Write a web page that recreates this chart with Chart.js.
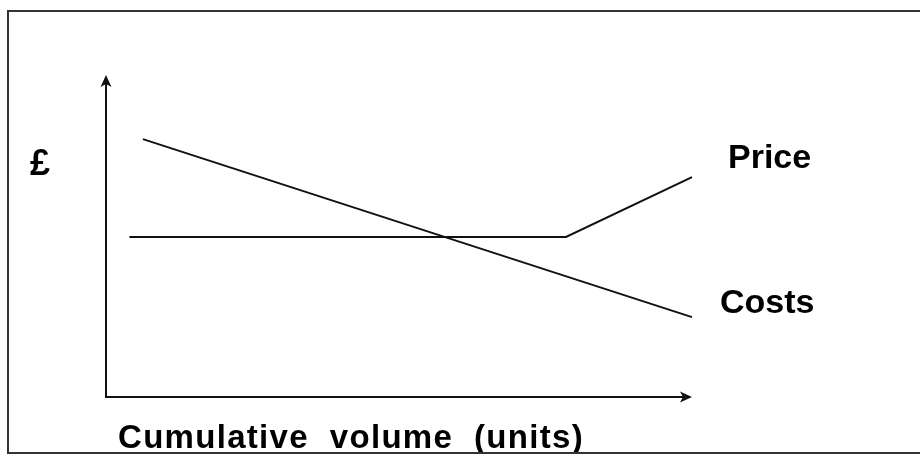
<!DOCTYPE html>
<html>
<head>
<meta charset="utf-8">
<script src="https://cdn.jsdelivr.net/npm/chart.js@4.4.1/dist/chart.umd.min.js"></script>
<style>
  html, body { margin: 0; padding: 0; background: #fff; }
  #wrap { width: 920px; height: 458px; }
</style>
</head>
<body>
<div id="wrap"><canvas id="chart" width="920" height="458"></canvas></div>
<script>
// values (volume 0..100 along x, £ 0..100 up y)
const priceVolume = [4, 78.5, 100];
const priceValues = [49.7, 49.7, 68.3];
const costVolume = [6.3, 100];
const costValues = [80.1, 24.8];
const seriesNames = ['Price', 'Costs'];
const yAxisLabel = '£';
const xAxisLabel = 'Cumulative  volume  (units)';

const fontFamily = '"Liberation Sans", Arial, sans-serif';

function toPoints(xs, ys) {
    return xs.map((x, i) => ({ x: x, y: ys[i] }));
}

// frame, arrowed axes and the text labels
const sketchPlugin = {
    id: 'sketch',
    beforeDraw(chart) {
        const ctx = chart.ctx;
        ctx.save();
        ctx.fillStyle = '#fff';
        ctx.fillRect(0, 0, chart.width, chart.height);
        ctx.strokeStyle = '#333';
        ctx.lineWidth = 2;
        ctx.strokeRect(8, 11, chart.width + 20, 442);
        ctx.restore();
    },
    afterDraw(chart) {
        const ctx = chart.ctx;
        const x = chart.scales.x;
        const y = chart.scales.y;
        const x0 = x.getPixelForValue(0);
        const x1 = x.getPixelForValue(100);
        const y0 = y.getPixelForValue(0);
        const y1 = y.getPixelForValue(100);

        ctx.save();
        ctx.strokeStyle = '#111';
        ctx.fillStyle = '#111';
        ctx.lineWidth = 2;
        ctx.beginPath();
        ctx.moveTo(x0, y1 + 8);
        ctx.lineTo(x0, y0);
        ctx.lineTo(x1 - 8, y0);
        ctx.stroke();

        // arrow heads
        ctx.beginPath();
        ctx.moveTo(x0, y1);
        ctx.lineTo(x0 - 5.5, y1 + 12);
        ctx.lineTo(x0, y1 + 9);
        ctx.lineTo(x0 + 5.5, y1 + 12);
        ctx.closePath();
        ctx.fill();
        ctx.beginPath();
        ctx.moveTo(x1, y0);
        ctx.lineTo(x1 - 12, y0 - 5.5);
        ctx.lineTo(x1 - 9, y0);
        ctx.lineTo(x1 - 12, y0 + 5.5);
        ctx.closePath();
        ctx.fill();

        ctx.fillStyle = '#000';
        ctx.textBaseline = 'alphabetic';
        ctx.textAlign = 'left';
        ctx.font = 'bold 34px ' + fontFamily;
        ctx.fillText(seriesNames[0], 728, 168);
        ctx.fillText(seriesNames[1], 720, 313);
        ctx.font = 'bold 36px ' + fontFamily;
        ctx.fillText(yAxisLabel, 30, 175);
        ctx.font = 'bold 33px ' + fontFamily;
        ctx.letterSpacing = '1.3px';
        ctx.fillText(xAxisLabel, 118, 448);
        ctx.restore();

        // frame bottom drawn again so it cuts the descenders like the original
        ctx.save();
        ctx.fillStyle = '#fff';
        ctx.fillRect(9, 454, chart.width, 10);
        ctx.strokeStyle = '#333';
        ctx.lineWidth = 2;
        ctx.beginPath();
        ctx.moveTo(7, 453);
        ctx.lineTo(chart.width, 453);
        ctx.stroke();
        ctx.restore();
    }
};

new Chart(document.querySelector('#chart').getContext('2d'), {
    type: 'scatter',
    data: {
        datasets: [
            {
                label: seriesNames[0],
                data: toPoints(priceVolume, priceValues),
                showLine: true,
                borderColor: '#111',
                borderWidth: 2,
                pointRadius: 0,
                clip: false,
            },
            {
                label: seriesNames[1],
                data: toPoints(costVolume, costValues),
                showLine: true,
                borderColor: '#111',
                borderWidth: 2,
                pointRadius: 0,
                clip: false,
            }
        ]
    },
    options: {
        responsive: false,
        animation: false,
        layout: { padding: { left: 106, right: 228, top: 75, bottom: 61 } },
        plugins: {
            legend: { display: false },
            tooltip: { enabled: false },
        },
        scales: {
            x: { type: 'linear', min: 0, max: 100, display: false },
            y: { type: 'linear', min: 0, max: 100, display: false },
        }
    },
    plugins: [sketchPlugin]
});
</script>
</body>
</html>
